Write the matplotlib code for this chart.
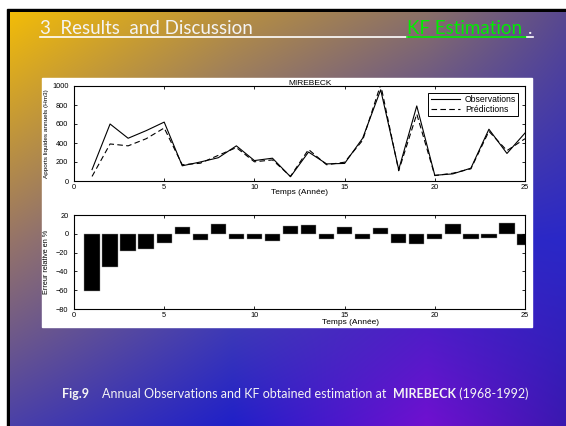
import numpy as np
import matplotlib
matplotlib.use('Agg')
import matplotlib.pyplot as plt
from matplotlib.patches import Rectangle

# Annual runoff at MIREBECK (1968-1992), years numbered 1..25
years = np.arange(1, 26)
observations = [120, 600, 450, 530, 620, 160, 200, 245, 370, 215, 240, 45, 305,
                180, 185, 450, 960, 120, 790, 60, 75, 135, 545, 290, 505]
predictions = [48, 390, 370, 445, 558, 171, 187, 270, 352, 202, 222, 49, 332,
               171, 198, 428, 1015, 108, 705, 57, 82, 128, 523, 320, 445]
rel_error = [-61, -35, -18, -16, -10, 7, -6.5, 10, -5, -6, -7.5, 8, 9,
             -5, 7, -5, 6, -10, -11, -5, 10, -5, -4, 11, -12]

x_ticks = [0, 5, 10, 15, 20, 25]
top_yticks = [0, 200, 400, 600, 800, 1000]
bot_yticks = [-80, -60, -40, -20, 0, 20]

W, H = 566, 426
fig = plt.figure(figsize=(W / 100, H / 100), dpi=100, facecolor='white')

# slide background
bg = fig.add_axes([0, 0, 1, 1])
bg.set_xlim(0, W)
bg.set_ylim(H, 0)
bg.axis('off')


def hex2rgb(h):
    h = h.lstrip('#')
    return [int(h[i:i + 2], 16) / 255 for i in (0, 2, 4)]


col_stops = [0, 0.4, 0.75, 1.0]
row_stops = [0, 0.55, 1.0]
stop_colors = [
    ['#F2BC08', '#B89040', '#8A7068', '#584890'],
    ['#967468', '#5850A8', '#3028C0', '#2A28C8'],
    ['#4A40A8', '#2020C8', '#7010D0', '#3A18B0'],
]
gw, gh = 280, 210
xs = np.linspace(0, 1, gw)
ys = np.linspace(0, 1, gh)
rows = np.array([[[np.interp(x, col_stops, [hex2rgb(c)[k] for c in r]) for k in range(3)]
                  for x in xs] for r in stop_colors])
grad = np.zeros((gh, gw, 3))
for k in range(3):
    for j in range(gw):
        grad[:, j, k] = np.interp(ys, row_stops, rows[:, j, k])

bg.add_patch(Rectangle((7, 9), W, H, color='black', zorder=0))
bg.imshow(grad, extent=(10, W, H, 12), aspect='auto', zorder=1, interpolation='bilinear')
bg.set_xlim(0, W)
bg.set_ylim(H, 0)
bg.add_patch(Rectangle((42, 78), 490, 249, color='white', zorder=2))

# heading
fig.text(40 / W, 1 - 34 / H, '3  Results  and Discussion', color='#F4F4F4',
         fontsize=13.5, family='Lato', va='baseline')
fig.text(407 / W, 1 - 34 / H, 'KF Estimation', color='#00EE00',
         fontsize=13.5, family='Lato', va='baseline')
fig.text(528 / W, 1 - 34 / H, '.', color='#F4F4F4',
         fontsize=13.5, family='Lato', va='baseline')
bg.plot([40, 407], [36.5, 36.5], color='white', lw=1.2, zorder=3)
bg.plot([407, 527], [36.5, 36.5], color='#00EE00', lw=1.2, zorder=3)
bg.plot([527, 533], [36.5, 36.5], color='white', lw=1.2, zorder=3)

chart_font = 'Liberation Sans'


def px_axes(x0, y0, x1, y1):
    return fig.add_axes([x0 / W, 1 - y1 / H, (x1 - x0) / W, (y1 - y0) / H])


def style(ax):
    ax.tick_params(direction='in', top=True, right=True, length=2.5, width=0.6,
                   labelsize=5.3, pad=2)
    ax.tick_params(axis='y', pad=4)
    for s in ax.spines.values():
        s.set_linewidth(0.8)
    for lab in ax.get_xticklabels() + ax.get_yticklabels():
        lab.set_family(chart_font)


# observations vs predictions
ax1 = px_axes(74, 86, 525, 181)
ax1.plot(years, observations, color='black', lw=0.8, label='Observations')
ax1.plot(years, predictions, color='black', lw=0.8, dashes=(5, 3), label='Prédictions')
ax1.set_xlim(0, 25)
ax1.set_ylim(0, 1000)
ax1.set_xticks(x_ticks)
ax1.set_yticks(top_yticks)
style(ax1)
ax1.set_title('MIREBECK', fontsize=6, family=chart_font, pad=1, x=0.523)
ax1.set_xlabel('Temps (Année)', fontsize=6, family=chart_font)
ax1.xaxis.set_label_coords(0.5, -0.08)
ax1.set_ylabel('Apports liquides annuels (Hm3)', fontsize=4.6, family=chart_font)
ax1.yaxis.set_label_coords(-0.055, 0.5)
leg = ax1.legend(loc='upper right', bbox_to_anchor=(0.995, 0.97),
                 fancybox=False, edgecolor='black', framealpha=1,
                 handlelength=3.4, borderpad=0.25, labelspacing=0.1,
                 handletextpad=0.6, prop={'family': chart_font, 'size': 6.2})
leg.get_frame().set_linewidth(0.7)

# relative error bars
ax2 = px_axes(74, 215, 525, 309)
ax2.bar(years, rel_error, width=0.85, color='black', edgecolor='#999999', linewidth=0.3)
ax2.set_xlim(0, 25)
ax2.set_ylim(-80, 20)
ax2.set_xticks(x_ticks)
ax2.set_yticks(bot_yticks)
style(ax2)
ax2.set_xlabel('Temps (Année)', fontsize=6, family=chart_font)
ax2.xaxis.set_label_coords(0.612, -0.11)
ax2.set_ylabel('Erreur relative en %', fontsize=5.2, family=chart_font)
ax2.yaxis.set_label_coords(-0.053, 0.5)

# caption, pieces laid out left to right
pieces = [('Fig.9', 'bold'),
          ('    Annual Observations and KF obtained estimation at  ', 'normal'),
          ('MIREBECK', 'bold'),
          (' (1968-1992)', 'normal')]
fig.canvas.draw()
renderer = fig.canvas.get_renderer()
xpos = 62
for txt, weight in pieces:
    t = fig.text(xpos / W, 1 - 398 / H, txt, color='#F4F4F4', fontsize=9,
                 family='Lato', weight=weight, va='baseline')
    xpos += t.get_window_extent(renderer).width

fig.savefig('out.png', dpi=100, facecolor='white')
